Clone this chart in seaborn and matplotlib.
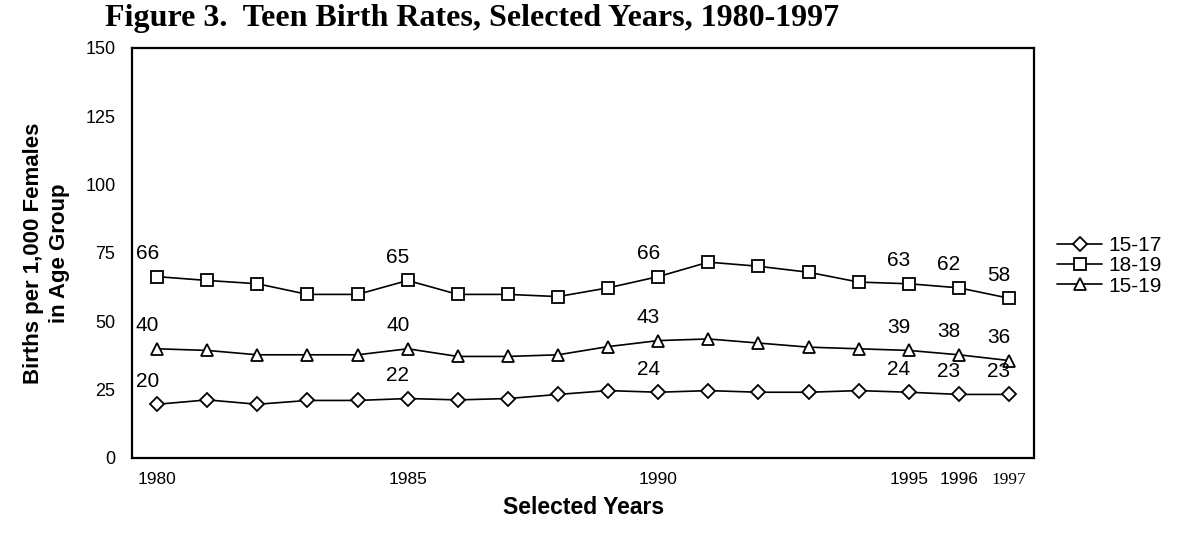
import matplotlib
matplotlib.use("Agg")
import matplotlib.pyplot as plt
import seaborn as sns
import pandas as pd

# values (births per 1,000 females)
years = list(range(1980, 1998))
rate_15_17 = [19.6, 21.2, 19.6, 21.0, 21.0, 21.7, 21.2, 21.7, 23.2, 24.6,
              24.0, 24.6, 24.0, 24.0, 24.6, 24.0, 23.2, 23.2]
rate_18_19 = [66.3, 64.9, 63.7, 59.8, 59.8, 64.9, 59.8, 59.8, 59.0, 62.2,
              66.3, 71.6, 70.1, 67.9, 64.3, 63.7, 62.2, 58.4]
rate_15_19 = [39.9, 39.3, 37.7, 37.7, 37.7, 39.9, 37.1, 37.1, 37.7, 40.7,
              42.9, 43.5, 42.0, 40.5, 39.9, 39.3, 37.7, 35.6]
groups = ["15-17", "18-19", "15-19"]

# data labels shown for the selected years
label_years = [1980, 1985, 1990, 1995, 1996, 1997]
labels_15_17 = [20, 22, 24, 24, 23, 23]
labels_18_19 = [66, 65, 66, 63, 62, 58]
labels_15_19 = [40, 40, 43, 39, 38, 36]

tick_years = [1980, 1985, 1990, 1995, 1996, 1997]
y_ticks = [0, 25, 50, 75, 100, 125, 150]

sns.set_style("white")
plt.rcParams["font.family"] = ["Liberation Sans", "DejaVu Sans"]
plt.rcParams["text.color"] = "black"
plt.rcParams["xtick.color"] = "black"
plt.rcParams["ytick.color"] = "black"
plt.rcParams["axes.labelcolor"] = "black"
narrow = ["Liberation Sans Narrow", "Liberation Sans"]

df = pd.DataFrame({"year": years, "15-17": rate_15_17,
                   "18-19": rate_18_19, "15-19": rate_15_19})
series_labels = {"15-17": labels_15_17, "18-19": labels_18_19, "15-19": labels_15_19}
markers = {"15-17": ("D", 7), "18-19": ("s", 8.5), "15-19": ("^", 9)}

fig, ax = plt.subplots(figsize=(11.9, 5.38), dpi=100)
fig.subplots_adjust(left=0.111, right=0.869, bottom=0.149, top=0.911)

for g in groups:
    m, ms = markers[g]
    sns.lineplot(data=df, x="year", y=g, ax=ax, color="black", linewidth=1.2,
                 marker=m, markersize=ms, markerfacecolor="white",
                 markeredgecolor="black", markeredgewidth=1.3, label=g)
    sub = df.set_index("year")[g]
    for yr, txt in zip(label_years, series_labels[g]):
        ax.annotate(str(txt), (yr, sub[yr]), xytext=(-10, 23),
                    textcoords="offset pixels", ha="center", va="center",
                    fontsize=15)

ax.set_xlim(1979.5, 1997.5)
ax.set_ylim(0, 150)
ax.set_yticks(y_ticks)
ax.set_yticklabels([str(v) for v in y_ticks], family=narrow, fontsize=13)
ax.set_xticks(tick_years)
ax.set_xticklabels([str(v) for v in tick_years], family=narrow, fontsize=12.5)
ax.get_xticklabels()[-1].set_family(["Liberation Serif", "DejaVu Serif"])
ax.tick_params(axis="x", length=0, pad=10)
ax.tick_params(axis="y", length=0, pad=12)

for s in ax.spines.values():
    s.set_visible(True)
    s.set_color("black")
    s.set_linewidth(1.6)

ax.set_xlabel("Selected Years", fontsize=16.5, fontweight="bold", va="center")
ax.xaxis.set_label_coords(0.5, -0.122)
ax.set_ylabel("Births per 1,000 Females\nin Age Group", fontsize=16,
              fontweight="bold", va="center", linespacing=1.3)
ax.yaxis.set_label_coords(-0.095, 0.5)

ax.legend(loc="center left", bbox_to_anchor=(1.025, 0.468), frameon=False,
          fontsize=15, handlelength=2.2, handletextpad=0.3,
          labelspacing=0.05, borderpad=0, borderaxespad=0)

fig.text(0.088, 0.951, "Figure 3.  Teen Birth Rates, Selected Years, 1980-1997",
         family=["Liberation Serif", "DejaVu Serif"], fontweight="bold",
         fontsize=23, ha="left", va="baseline")

fig.savefig("out.png", dpi=100)
